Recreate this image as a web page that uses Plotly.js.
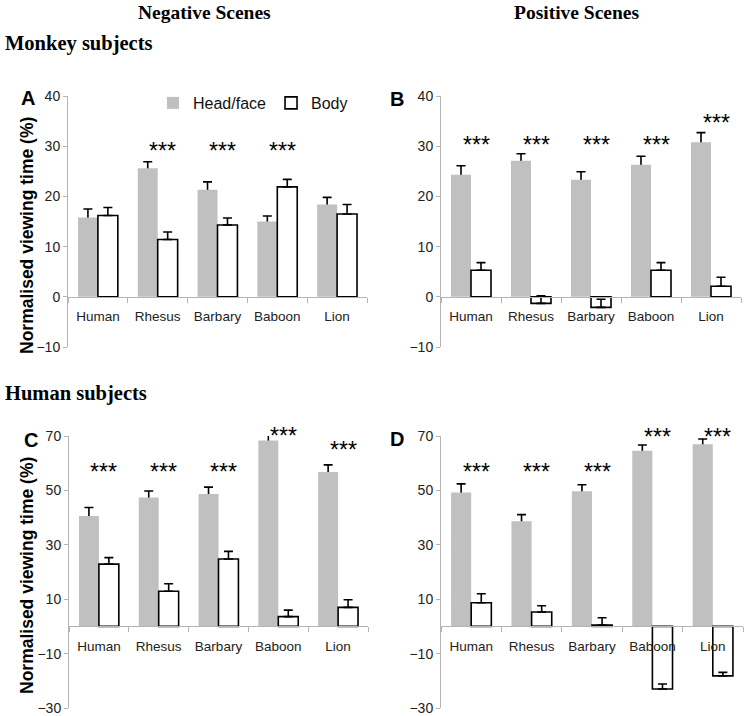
<!DOCTYPE html>
<html>
<head>
<meta charset="utf-8">
<script src="https://cdn.plot.ly/plotly-3.0.1.min.js"></script>
<style>html,body{margin:0;padding:0;background:#fff;}#chart{width:747px;height:716px;}</style>
</head>
<body>
<div id="chart"></div>
<script>
// ---- data ----
const categories = ["Human", "Rhesus", "Barbary", "Baboon", "Lion"];

// Panel A: monkey subjects, negative scenes
const headA = [15.8, 25.6, 21.3, 15.0, 18.4];
const headErrA = [1.7, 1.3, 1.6, 1.1, 1.4];
const bodyA = [16.2, 11.4, 14.3, 21.9, 16.5];
const bodyErrA = [1.6, 1.5, 1.4, 1.5, 1.9];
const starsA = [null, 29.7, 29.7, 29.7, null];

// Panel B: monkey subjects, positive scenes
const headB = [24.3, 27.1, 23.3, 26.3, 30.8];
const headErrB = [1.8, 1.4, 1.6, 1.7, 1.9];
const bodyB = [5.3, -1.3, -2.1, 5.3, 2.1];
const bodyErrB = [1.5, 1.5, 1.6, 1.5, 1.8];
const starsB = [30.8, 30.8, 30.8, 30.8, 35.3];

// Panel C: human subjects, negative scenes
const headC = [40.6, 47.4, 48.7, 68.3, 56.8];
const headErrC = [3.1, 2.4, 2.5, 2.4, 2.6];
const bodyC = [22.9, 12.9, 24.8, 3.6, 7.0];
const bodyErrC = [2.4, 2.8, 2.8, 2.4, 2.8];
const starsC = [57.8, 57.8, 57.8, 71.0, 65.8];

// Panel D: human subjects, positive scenes
const headD = [49.2, 38.7, 49.7, 64.6, 67.0];
const headErrD = [3.2, 2.4, 2.4, 2.1, 1.9];
const bodyD = [8.7, 5.3, 0.5, -23.0, -18.2];
const bodyErrD = [3.3, 2.3, 2.7, 1.8, 1.3];
const starsD = [57.8, 57.8, 57.8, 70.9, 70.9];

const yTicksTop = [-10, 0, 10, 20, 30, 40];
const yTicksBottom = [-30, -10, 10, 30, 50, 70];

// ---- layout helpers ----
const W = 747, H = 716;
const px = v => v / W;
const py = v => 1 - v / H;
const FONT = "Liberation Sans, Arial, sans-serif";
const SERIF = "Liberation Serif, Times New Roman, serif";
const GRAY = "#c0c0c0";
const AXC = "#b4b4b4";

const panels = [
  {id: "", head: headA, headErr: headErrA, body: bodyA, bodyErr: bodyErrA, stars: starsA,
   xd: [px(68), px(367)], yd: [py(347), py(96)], range: [-10, 40], ticks: yTicksTop, legend: true},
  {id: "2", head: headB, headErr: headErrB, body: bodyB, bodyErr: bodyErrB, stars: starsB,
   xd: [px(441), px(741)], yd: [py(347), py(96)], range: [-10, 40], ticks: yTicksTop, legend: false},
  {id: "3", head: headC, headErr: headErrC, body: bodyC, bodyErr: bodyErrC, stars: starsC,
   xd: [px(69), px(368)], yd: [py(708), py(436)], range: [-30, 70], ticks: yTicksBottom, legend: false},
  {id: "4", head: headD, headErr: headErrD, body: bodyD, bodyErr: bodyErrD, stars: starsD,
   xd: [px(441), px(743)], yd: [py(708), py(436)], range: [-30, 70], ticks: yTicksBottom, legend: false}
];

const data = [];
const layout = {
  width: W, height: H,
  margin: {l: 0, r: 0, t: 0, b: 0},
  paper_bgcolor: "#fff", plot_bgcolor: "rgba(0,0,0,0)",
  barmode: "group", bargap: 1/3, bargroupgap: 0,
  showlegend: true,
  legend: {orientation: "h", x: px(153), y: py(103), xanchor: "left", yanchor: "middle",
           font: {family: FONT, size: 16, color: "#111"}, bgcolor: "rgba(0,0,0,0)",
           traceorder: "normal"},
  annotations: [],
  font: {family: FONT}
};

panels.forEach(p => {
  const xa = "x" + p.id, ya = "y" + p.id;
  // invisible carrier of the head/face error bars (drawn first, hidden under the bars below)
  data.push({
    type: "bar", x: categories, y: p.head, xaxis: xa, yaxis: ya, offsetgroup: "h",
    marker: {color: "rgba(0,0,0,0)", line: {width: 0}}, showlegend: false, hoverinfo: "skip",
    error_y: {type: "data", symmetric: false, array: p.headErr, arrayminus: p.head.map(v => v / 2),
              color: "#000", thickness: 1.6, width: 4.5}
  });
  data.push({
    type: "bar", name: "Head/face", x: categories, y: p.head, xaxis: xa, yaxis: ya, offsetgroup: "h",
    marker: {color: GRAY, line: {width: 0}}, showlegend: p.legend
  });
  data.push({
    type: "bar", name: "Body", x: categories, y: p.body, xaxis: xa, yaxis: ya, offsetgroup: "b",
    marker: {color: "#fff", line: {color: "#000", width: 1.6}}, showlegend: p.legend,
    error_y: {type: "data", symmetric: false, array: p.bodyErr, arrayminus: p.body.map(() => 0),
              color: "#000", thickness: 1.6, width: 4.5}
  });

  // paper position of a y value on this panel's axis
  const yFrac = v => p.yd[0] + (v - p.range[0]) / (p.range[1] - p.range[0]) * (p.yd[1] - p.yd[0]);
  layout["xaxis" + p.id] = {
    domain: p.xd, anchor: "free", position: yFrac(0), type: "category",
    showline: true, linecolor: AXC, linewidth: 1,
    ticks: "outside", tickson: "boundaries", ticklen: 5, tickcolor: AXC,
    ticklabelstandoff: 7,
    tickfont: {family: FONT, size: 13.5, color: "#222"},
    showgrid: false, zeroline: false, fixedrange: true
  };
  layout["yaxis" + p.id] = {
    domain: p.yd, anchor: xa, range: p.range, tickvals: p.ticks,
    showline: true, linecolor: AXC, linewidth: 1,
    ticks: "outside", ticklen: 4, tickcolor: AXC,
    tickfont: {family: FONT, size: 14, color: "#222"},
    showgrid: false, zeroline: false, fixedrange: true
  };

  p.stars.forEach((s, i) => {
    if (s === null) return;
    const inRange = s <= p.range[1];
    layout.annotations.push({
      xref: xa, x: categories[i],
      yref: inRange ? ya : "paper", y: inRange ? s : yFrac(s),
      text: "***", showarrow: false,
      xshift: 5, yshift: -3, font: {family: FONT, size: 23, color: "#000"}
    });
  });
});

// panel letters, section titles, axis titles
const textAnn = (x, y, text, opts) => Object.assign({
  xref: "paper", yref: "paper", x: px(x), y: py(y), text: text, showarrow: false,
  xanchor: "center", yanchor: "middle"}, opts);

layout.annotations.push(
  textAnn(204, 12, "<b>Negative Scenes</b>", {font: {family: SERIF, size: 19.5, color: "#000"}}),
  textAnn(577, 12, "<b>Positive Scenes</b>", {font: {family: SERIF, size: 19.5, color: "#000"}}),
  textAnn(3, 44, "<b>Monkey subjects</b>", {xanchor: "left", font: {family: SERIF, size: 20.5, color: "#000"}}),
  textAnn(3, 393, "<b>Human subjects</b>", {xanchor: "left", font: {family: SERIF, size: 20.5, color: "#000"}}),
  textAnn(28, 98, "<b>A</b>", {font: {family: FONT, size: 20, color: "#000"}}),
  textAnn(397, 99, "<b>B</b>", {font: {family: FONT, size: 20, color: "#000"}}),
  textAnn(31, 440, "<b>C</b>", {font: {family: FONT, size: 20, color: "#000"}}),
  textAnn(397, 439, "<b>D</b>", {font: {family: FONT, size: 20, color: "#000"}}),
  textAnn(27, 236, "<b>Normalised viewing time (%)</b>", {textangle: -90, font: {family: FONT, size: 17.5, color: "#000"}}),
  textAnn(27, 576, "<b>Normalised viewing time (%)</b>", {textangle: -90, font: {family: FONT, size: 17.5, color: "#000"}})
);

Plotly.newPlot("chart", data, layout, {displayModeBar: false, staticPlot: true});
</script>
</body>
</html>
